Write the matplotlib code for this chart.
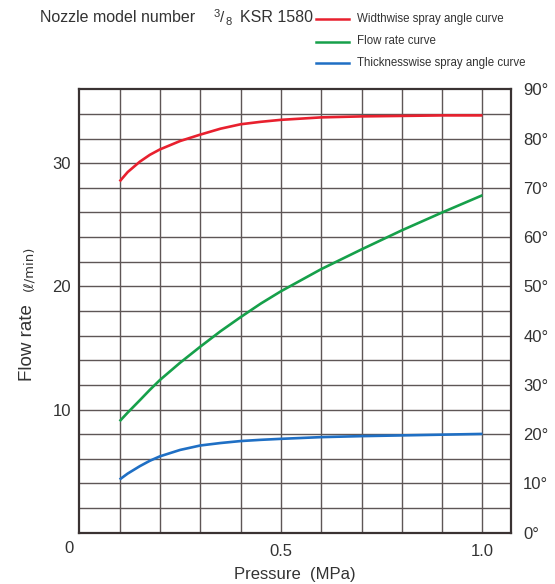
import matplotlib
matplotlib.use("Agg")
import matplotlib.pyplot as plt

# Values
pressure = [0.1, 0.12, 0.15, 0.175, 0.2, 0.25, 0.3, 0.35, 0.4, 0.45, 0.5,
            0.6, 0.7, 0.8, 0.9, 1.0]                                         # MPa
flow_rate = [9.05, 9.75, 10.75, 11.6, 12.4, 13.8, 15.1, 16.35, 17.5, 18.6, 19.6,
             21.4, 23.0, 24.55, 26.0, 27.4]                                   # l/min
width_angle = [71.3, 73.2, 75.3, 76.7, 77.8, 79.5, 80.8, 82.0, 82.9, 83.4, 83.8,
               84.3, 84.5, 84.6, 84.7, 84.7]                                  # deg
thick_angle = [10.8, 12.0, 13.5, 14.6, 15.5, 16.8, 17.7, 18.2, 18.6, 18.85, 19.05,
               19.4, 19.6, 19.75, 19.9, 20.05]                                # deg

x_ticks = [0.5, 1.0]
x_tick_labels = ['0.5', '1.0']
flow_ticks = [10, 20, 30]
angle_ticks = [0, 10, 20, 30, 40, 50, 60, 70, 80, 90]

RED = '#e8202e'
GREEN = '#16a04a'
BLUE = '#1f6fc4'
GRID = '#5e5656'
FRAME = '#3a3232'
TXT = '#333333'

plt.rcParams['font.family'] = ['Liberation Sans', 'DejaVu Sans']

W, H = 555, 584
fig = plt.figure(figsize=(W / 100, H / 100), dpi=100)


def px(x, y):
    return x / W, 1 - y / H


left, right, top, bottom = 79.3, 510.7, 89.3, 532.7
ax = fig.add_axes([left / W, 1 - bottom / H, (right - left) / W, (bottom - top) / H])
ax.set_xlim(0, 1.07)
ax.set_ylim(0, 36)

# grid
for xv in [i / 10 for i in range(1, 11)]:
    ax.axvline(xv, color=GRID, lw=1.0, zorder=1)
for yv in range(2, 36, 2):
    ax.axhline(yv, color=GRID, lw=1.0, zorder=1)
for s in ax.spines.values():
    s.set_color(FRAME)
    s.set_linewidth(1.6)

ax.set_xticks(x_ticks)
ax.set_xticklabels(x_tick_labels)
ax.set_yticks(flow_ticks)
ax.tick_params(length=0, labelsize=12, colors=TXT, pad=6)
ax.tick_params(axis='x', pad=8)
ax.text(-0.025, -0.036, '0', transform=ax.transAxes, ha='center', va='center',
        fontsize=12, color=TXT)

ax2 = ax.twinx()
ax2.set_ylim(0, 90)
ax2.set_yticks(angle_ticks)
ax2.set_yticklabels([f'{v}°' for v in angle_ticks])
ax2.tick_params(length=0, labelsize=12, colors=TXT, pad=9)
for s in ax2.spines.values():
    s.set_visible(False)

ax.plot(pressure, flow_rate, color=GREEN, lw=1.9, zorder=3, solid_capstyle='butt')
ax2.plot(pressure, width_angle, color=RED, lw=1.9, zorder=3, solid_capstyle='butt')
ax2.plot(pressure, thick_angle, color=BLUE, lw=1.9, zorder=3, solid_capstyle='butt')

# axis titles
fig.text(*px(28, 343), 'Flow rate', rotation=90, ha='center', va='center',
         fontsize=13.5, color=TXT)
fig.text(*px(29, 268), '(ℓ/min)', rotation=90, ha='center', va='center',
         fontsize=9.5, color=TXT, family=['DejaVu Sans'])
fig.text(*px(295, 574), 'Pressure  (MPa)', ha='center', va='center',
         fontsize=12, color=TXT)

# header
fig.text(*px(40, 18), 'Nozzle model number', ha='left', va='center',
         fontsize=11.5, color=TXT)
fig.text(*px(214, 14), '3', ha='left', va='center', fontsize=8, color=TXT)
fig.text(*px(220, 18), '/', ha='left', va='center', fontsize=11, color=TXT)
fig.text(*px(226, 22), '8', ha='left', va='center', fontsize=8, color=TXT)
fig.text(*px(240, 18), 'KSR 1580', ha='left', va='center', fontsize=11.5, color=TXT)

legend_items = [('Widthwise spray angle curve', RED, 19),
                ('Flow rate curve', GREEN, 41.5),
                ('Thicknesswise spray angle curve', BLUE, 63)]
for label, col, yy in legend_items:
    x0, y0 = px(316, yy)
    x1, _ = px(349, yy)
    fig.add_artist(plt.Line2D([x0, x1], [y0, y0], color=col, lw=1.8,
                              transform=fig.transFigure))
    fig.text(*px(357, yy), label, ha='left', va='center', fontsize=8.3,
             color=TXT)

fig.savefig('out.png', dpi=100)
